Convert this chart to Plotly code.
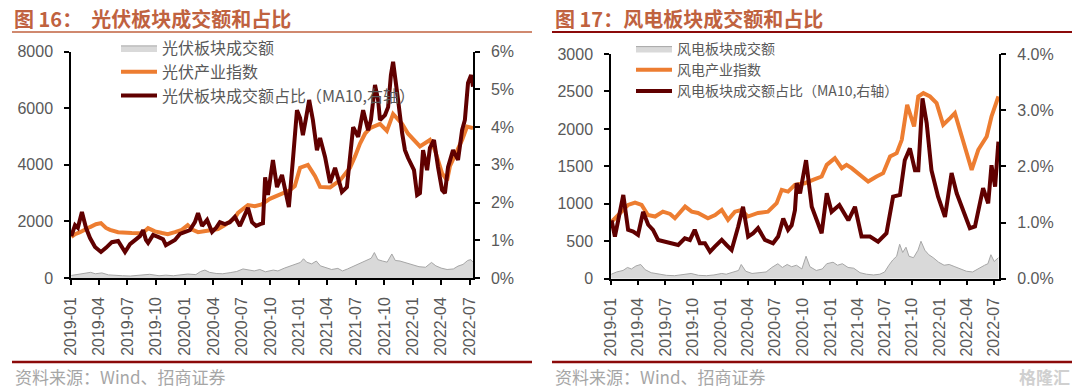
import plotly.graph_objects as go

W, H = 1077, 392

# ---------------- data : 光伏 (PV) ----------------
pv_amt_dates = ["2019-01-02","2019-01-20","2019-02-15","2019-03-05","2019-03-20","2019-04-10","2019-05-01","2019-05-20",
                "2019-06-15","2019-07-10","2019-08-01","2019-08-25","2019-09-10","2019-10-10","2019-11-01","2019-11-25",
                "2019-12-15","2020-01-10","2020-02-05","2020-02-20","2020-03-05","2020-03-20","2020-04-10","2020-05-01",
                "2020-05-25","2020-06-15","2020-07-05","2020-07-20","2020-08-10","2020-08-28","2020-09-15","2020-10-10",
                "2020-10-25","2020-11-15","2020-12-05","2020-12-20","2021-01-05","2021-01-15","2021-01-25","2021-02-10",
                "2021-02-25","2021-03-10","2021-03-25","2021-04-15","2021-05-05","2021-05-20","2021-06-05","2021-06-20",
                "2021-07-05","2021-07-20","2021-08-05","2021-08-20","2021-08-30","2021-09-10","2021-09-25","2021-10-10",
                "2021-10-25","2021-11-05","2021-11-20","2021-12-05","2021-12-20","2022-01-05","2022-01-20","2022-02-10",
                "2022-03-01","2022-03-15","2022-04-01","2022-04-20","2022-05-10","2022-05-25","2022-06-10","2022-06-25",
                "2022-07-05","2022-07-12"]
pv_amt = [90, 120, 160, 200, 150, 180, 110, 90,
          80, 70, 90, 110, 130, 80, 100, 80,
          110, 140, 120, 230, 280, 200, 160, 150,
          190, 230, 320, 280, 250, 300, 220, 280,
          250, 350, 420, 480, 550, 680, 560, 500,
          600, 430, 380, 300, 340, 250, 320, 400,
          480, 550, 640, 700, 900, 650, 600, 560,
          850, 620, 600, 550, 520, 470, 400, 380,
          550, 430, 350, 300, 320, 420, 480, 620,
          650, 560]

pv_idx_dates = ["2019-01-02","2019-01-14","2019-01-30","2019-02-15","2019-03-03","2019-03-22","2019-04-07","2019-04-23",
                "2019-05-06","2019-06-01","2019-06-23","2019-07-15","2019-08-10","2019-08-26","2019-09-05","2019-09-27",
                "2019-10-20","2019-11-07","2019-11-30","2019-12-22","2020-01-10","2020-01-26","2020-02-12","2020-03-05",
                "2020-03-28","2020-04-16","2020-05-08","2020-05-24","2020-06-09","2020-06-19","2020-07-01","2020-07-21",
                "2020-08-12","2020-09-03","2020-09-29","2020-10-31","2020-12-02","2020-12-18","2021-01-04","2021-01-29",
                "2021-02-21","2021-03-09","2021-04-10","2021-05-12","2021-06-13","2021-06-29","2021-07-15","2021-07-31",
                "2021-08-16","2021-09-17","2021-10-09","2021-10-29","2021-11-27","2021-12-16","2022-01-14","2022-01-23",
                "2022-02-24","2022-03-12","2022-04-04","2022-04-20","2022-04-29","2022-05-22","2022-06-07","2022-06-23",
                "2022-07-12"]
pv_idx = [1450, 1550, 1620, 1730, 1800, 1900, 1940, 1770,
          1700, 1620, 1620, 1590, 1580, 1660, 1760, 1650,
          1590, 1550, 1620, 1700, 1870, 1700, 1620, 1650,
          1700, 1730, 1870, 1980, 2120, 2300, 2400, 2580,
          2540, 2600, 2800, 2950, 3100, 3250, 3900, 4000,
          3600, 3220, 3200, 3450, 3900, 4300, 4750, 5100,
          5300, 5450, 5200, 5800, 5450, 5100, 4750, 4650,
          4880, 4520, 3700, 3450, 3950, 4500, 4880, 5350,
          5300]

pv_share_dates = ["2019-01-02","2019-01-14","2019-01-23","2019-02-05","2019-02-18","2019-03-03","2019-03-19","2019-04-07",
                  "2019-04-23","2019-05-12","2019-06-01","2019-06-10","2019-06-23","2019-07-09","2019-07-25","2019-08-10",
                  "2019-08-20","2019-08-29","2019-09-05","2019-09-21","2019-10-07","2019-10-23","2019-11-01","2019-11-14",
                  "2019-11-30","2019-12-16","2020-01-02","2020-01-17","2020-02-02","2020-02-12","2020-02-25","2020-03-12",
                  "2020-03-28","2020-04-10","2020-04-22","2020-05-08","2020-05-24","2020-06-09","2020-06-25","2020-07-08",
                  "2020-07-21","2020-08-03","2020-08-16","2020-08-29","2020-09-07","2020-09-14","2020-09-23","2020-10-09",
                  "2020-10-22","2020-11-07","2020-11-20","2020-11-29","2020-12-12","2020-12-25","2021-01-04","2021-01-13",
                  "2021-01-23","2021-02-02","2021-02-14","2021-02-27","2021-03-09","2021-03-25","2021-04-10","2021-04-26",
                  "2021-05-12","2021-05-18","2021-06-03","2021-06-13","2021-06-23","2021-07-09","2021-07-25","2021-08-10",
                  "2021-08-19","2021-09-01","2021-09-11","2021-09-17","2021-10-03","2021-10-13","2021-10-22","2021-10-29",
                  "2021-11-07","2021-11-14","2021-11-27","2021-12-06","2021-12-16","2022-01-04","2022-01-14","2022-01-23",
                  "2022-02-02","2022-02-15","2022-02-24","2022-03-09","2022-03-22","2022-04-04","2022-04-13","2022-04-23",
                  "2022-05-09","2022-05-25","2022-06-07","2022-06-16","2022-06-26","2022-07-06","2022-07-12"]
pv_share = [1.11, 1.40, 1.33, 1.75, 1.33, 1.06, 0.82, 0.69,
            0.80, 0.95, 0.98, 0.85, 0.69, 0.90, 1.01, 1.11,
            1.27, 1.01, 0.93, 1.14, 1.09, 1.03, 0.87, 0.93,
            1.01, 1.17, 1.22, 1.27, 1.48, 1.72, 1.38, 1.54,
            1.22, 1.33, 1.48, 1.43, 1.48, 1.62, 1.38, 1.62,
            1.86, 1.48, 1.38, 1.43, 1.45, 2.67, 2.20, 3.13,
            2.41, 2.73, 2.20, 1.88, 3.13, 4.45, 4.24, 3.79,
            4.24, 4.72, 4.19, 3.39, 3.71, 3.21, 2.52, 2.92,
            2.47, 2.28, 2.41, 3.13, 4.00, 3.74, 4.45, 3.92,
            4.19, 5.12, 4.72, 4.19, 4.32, 4.53, 5.38, 5.73,
            5.25, 4.72, 3.84, 3.39, 3.18, 2.86, 2.20, 2.25,
            3.39, 2.86, 3.45, 3.66, 2.94, 2.33, 2.25, 2.94,
            3.39, 3.13, 3.92, 4.19, 5.17, 5.38, 5.07]

# ---------------- data : 风电 (wind) ----------------
wind_amt_dates = ["2019-01-02","2019-01-20","2019-02-10","2019-02-25","2019-03-10","2019-03-25","2019-04-10","2019-04-25",
                  "2019-05-15","2019-06-10","2019-07-05","2019-08-01","2019-09-01","2019-09-25","2019-10-20","2019-11-15",
                  "2019-12-10","2020-01-05","2020-01-20","2020-02-15","2020-03-01","2020-03-10","2020-03-25","2020-04-15",
                  "2020-05-10","2020-06-01","2020-06-20","2020-07-10","2020-07-25","2020-08-10","2020-08-25","2020-09-10",
                  "2020-09-28","2020-10-12","2020-10-25","2020-11-15","2020-12-05","2020-12-20","2021-01-10","2021-01-25",
                  "2021-02-10","2021-03-01","2021-03-20","2021-04-10","2021-05-01","2021-05-25","2021-06-15","2021-07-01",
                  "2021-07-15","2021-07-28","2021-08-10","2021-08-20","2021-08-30","2021-09-10","2021-09-20","2021-10-05",
                  "2021-10-20","2021-10-30","2021-11-12","2021-11-25","2021-12-10","2021-12-28","2022-01-15","2022-02-01",
                  "2022-02-20","2022-03-10","2022-03-30","2022-04-20","2022-05-10","2022-05-30","2022-06-10","2022-06-20",
                  "2022-07-01","2022-07-15"]
wind_amt = [60, 90, 110, 150, 130, 170, 190, 120,
            80, 60, 45, 40, 55, 70, 45, 40,
            50, 70, 60, 90, 110, 190, 100, 70,
            80, 90, 150, 200, 150, 190, 160, 180,
            130, 300, 160, 110, 130, 200, 220, 180,
            200, 150, 140, 80, 60, 50, 60, 90,
            180, 250, 300, 460, 350, 420, 300, 280,
            380, 500, 380, 320, 280, 220, 180, 190,
            160, 130, 100, 90, 140, 180, 200, 320,
            230, 280]

wind_idx_dates = ["2019-01-03","2019-01-31","2019-02-27","2019-03-22","2019-04-13","2019-05-04","2019-05-28","2019-06-23",
                  "2019-07-17","2019-08-02","2019-09-05","2019-09-27","2019-10-18","2019-11-20","2019-12-14","2020-01-05",
                  "2020-01-26","2020-02-18","2020-03-11","2020-04-01","2020-05-05","2020-06-07","2020-07-06","2020-07-23",
                  "2020-08-13","2020-09-05","2020-10-08","2020-11-04","2020-12-03","2020-12-20","2021-01-16","2021-02-08",
                  "2021-02-24","2021-03-13","2021-04-04","2021-05-07","2021-06-04","2021-06-26","2021-07-19","2021-08-10",
                  "2021-08-27","2021-09-14","2021-10-07","2021-10-21","2021-11-07","2021-11-29","2021-12-21","2022-01-12",
                  "2022-02-04","2022-02-20","2022-03-15","2022-04-17","2022-05-09","2022-06-06","2022-06-22","2022-07-09",
                  "2022-07-15"]
wind_idx = [760, 880, 985, 1015, 985, 850, 830, 895,
            865, 807, 963, 895, 878, 807, 850, 918,
            785, 895, 918, 830, 878, 895, 1008, 1186,
            1163, 1253, 1275, 1320, 1364, 1520, 1610, 1476,
            1520, 1476, 1409, 1297, 1364, 1409, 1631, 1676,
            1854, 2322, 2032, 2433, 2478, 2433, 2345, 2055,
            2144, 2211, 1899, 1453, 1721, 1899, 2166, 2389,
            2433]

wind_share_dates = ["2019-01-03","2019-01-14","2019-01-25","2019-02-11","2019-02-27","2019-03-16","2019-04-01","2019-04-18",
                    "2019-05-05","2019-05-21","2019-06-07","2019-06-29","2019-07-22","2019-08-13","2019-09-04","2019-09-21",
                    "2019-10-07","2019-10-24","2019-11-10","2019-11-27","2019-12-13","2020-01-05","2020-01-21","2020-02-07",
                    "2020-02-29","2020-03-16","2020-04-02","2020-04-19","2020-05-05","2020-05-28","2020-06-24","2020-07-11",
                    "2020-07-28","2020-08-13","2020-08-25","2020-09-05","2020-09-11","2020-09-22","2020-10-12","2020-10-31",
                    "2020-12-03","2020-12-20","2021-01-05","2021-01-31","2021-03-02","2021-03-24","2021-04-15","2021-05-13",
                    "2021-06-09","2021-07-07","2021-07-29","2021-08-21","2021-09-06","2021-09-23","2021-10-10","2021-10-21",
                    "2021-11-04","2021-11-18","2021-12-04","2021-12-26","2022-01-18","2022-02-09","2022-02-26","2022-03-20",
                    "2022-04-11","2022-04-28","2022-05-25","2022-06-11","2022-06-22","2022-07-04","2022-07-15"]
wind_share = [1.04, 0.75, 1.04, 1.49, 0.87, 0.84, 0.78, 1.19,
              0.96, 0.87, 0.69, 0.66, 0.63, 0.60, 0.72, 0.69,
              0.87, 0.63, 0.63, 0.48, 0.57, 0.69, 0.60, 0.51,
              0.93, 1.28, 0.75, 0.81, 0.90, 0.69, 0.63, 0.75,
              1.07, 0.87, 0.95, 1.22, 1.70, 1.52, 2.11, 1.28,
              0.81, 1.52, 1.19, 1.31, 1.04, 1.28, 0.75, 0.75,
              0.66, 0.81, 1.46, 1.49, 2.11, 2.32, 1.93, 1.93,
              3.21, 2.77, 1.93, 1.46, 1.10, 1.88, 1.52, 1.22,
              0.90, 0.93, 1.61, 1.34, 2.02, 1.64, 2.44]

x_tick_vals = ["2019-01-01","2019-04-01","2019-07-01","2019-10-01","2020-01-01","2020-04-01","2020-07-01","2020-10-01",
               "2021-01-01","2021-04-01","2021-07-01","2021-10-01","2022-01-01","2022-04-01","2022-07-01"]
x_tick_text = ["2019-01","2019-04","2019-07","2019-10","2020-01","2020-04","2020-07","2020-10",
               "2021-01","2021-04","2021-07","2021-10","2022-01","2022-04","2022-07"]

titles = ["图 16：  光伏板块成交额和占比", "图 17：风电板块成交额和占比"]
source_text = "资料来源：Wind、招商证券"

# ---------------- styling ----------------
GRAY_FILL = "#D9D9D9"
GRAY_LINE = "#A6A6A6"
ORANGE = "#ED7D31"
MAROON = "#600000"
TITLE_C = "#C0623F"
RULE_RED = "#8B0A0A"
TXT = "#595959"
TICKFONT = dict(family="Liberation Sans, Arial", size=16, color=TXT)
CJK = "Noto Sans CJK SC"


def px(x):
    return x / W


def py(y):
    return 1 - y / H


fig = go.Figure()

# PV panel
fig.add_trace(go.Scatter(x=pv_amt_dates, y=pv_amt, name="光伏板块成交额", mode="lines",
                         fill="tozeroy", fillcolor=GRAY_FILL, line=dict(color=GRAY_LINE, width=1),
                         xaxis="x", yaxis="y", legend="legend"))
fig.add_trace(go.Scatter(x=pv_idx_dates, y=pv_idx, name="光伏产业指数", mode="lines",
                         line=dict(color=ORANGE, width=4), xaxis="x", yaxis="y", legend="legend"))
fig.add_trace(go.Scatter(x=pv_share_dates, y=pv_share, name="光伏板块成交额占比（MA10,右轴）", mode="lines",
                         line=dict(color=MAROON, width=4), xaxis="x", yaxis="y2", legend="legend"))

# Wind panel
fig.add_trace(go.Scatter(x=wind_amt_dates, y=wind_amt, name="风电板块成交额", mode="lines",
                         fill="tozeroy", fillcolor=GRAY_FILL, line=dict(color=GRAY_LINE, width=1),
                         xaxis="x2", yaxis="y3", legend="legend2"))
fig.add_trace(go.Scatter(x=wind_idx_dates, y=wind_idx, name="风电产业指数", mode="lines",
                         line=dict(color=ORANGE, width=4), xaxis="x2", yaxis="y3", legend="legend2"))
fig.add_trace(go.Scatter(x=wind_share_dates, y=wind_share, name="风电板块成交额占比（MA10,右轴）", mode="lines",
                         line=dict(color=MAROON, width=4), xaxis="x2", yaxis="y4", legend="legend2"))

axis_common = dict(showline=True, linecolor="#000000", linewidth=1.5, ticks="outside", ticklen=5,
                   tickcolor="#000000", tickwidth=1.5, showgrid=False, zeroline=False, tickfont=TICKFONT,
                   automargin=False)

xcommon = dict(axis_common, type="date", tickvals=x_tick_vals, ticktext=x_tick_text, tickangle=-90,
               ticklabelstandoff=6)

fig.update_layout(
    width=W, height=H, autosize=False,
    margin=dict(l=0, r=0, t=0, b=0, pad=0, autoexpand=False),
    paper_bgcolor="white", plot_bgcolor="white",
    font=dict(family=CJK, color=TXT),
    xaxis=dict(xcommon, domain=[px(71), px(473)], anchor="y", range=["2019-01-01", "2022-07-12"]),
    yaxis=dict(axis_common, domain=[py(278), py(51.7)], anchor="x", range=[0, 8000], dtick=2000,
               ticklabelstandoff=8),
    yaxis2=dict(axis_common, overlaying="y", side="right", anchor="x", range=[0, 6], dtick=1,
                ticksuffix="%", ticklabelstandoff=8),
    xaxis2=dict(xcommon, domain=[px(611), px(999.3)], anchor="y3", range=["2019-01-01", "2022-07-18"]),
    yaxis3=dict(axis_common, domain=[py(278.7), py(54)], anchor="x2", range=[0, 3000], dtick=500,
                ticklabelstandoff=8),
    yaxis4=dict(axis_common, overlaying="y3", side="right", anchor="x2", range=[0, 4], dtick=1,
                tickformat=".1f", ticksuffix="%", ticklabelstandoff=8),
    legend=dict(x=px(116), y=py(31), xanchor="left", yanchor="top", bgcolor="rgba(0,0,0,0)",
                font=dict(family=CJK, size=16, color=TXT), tracegroupgap=0, itemwidth=36),
    legend2=dict(x=px(631), y=py(33), xanchor="left", yanchor="top", bgcolor="rgba(0,0,0,0)",
                 font=dict(family=CJK, size=14, color=TXT), tracegroupgap=0, itemwidth=36),
    showlegend=True,
)

# titles, rules, source
ann = []
for x0, t in zip([12, 553], titles):
    ann.append(dict(x=px(x0), y=py(18), xref="paper", yref="paper", xanchor="left", yanchor="middle",
                    text="<b>" + t + "</b>", showarrow=False,
                    font=dict(family=CJK, size=20, color=TITLE_C)))
for x0 in [13, 553]:
    ann.append(dict(x=px(x0), y=py(376), xref="paper", yref="paper", xanchor="left", yanchor="middle",
                    text=source_text, showarrow=False,
                    font=dict(family=CJK, size=17, color="#A6A6A6")))
ann.append(dict(x=px(1072), y=py(376), xref="paper", yref="paper", xanchor="right", yanchor="middle",
                text="<b>格隆汇</b>", showarrow=False, font=dict(family=CJK, size=17, color="#D0D0D0")))
fig.update_layout(annotations=ann)

shapes = [
    dict(type="line", xref="paper", yref="paper", x0=px(12), x1=px(532), y0=py(32), y1=py(32),
         line=dict(color=TITLE_C, width=1.5)),
    dict(type="line", xref="paper", yref="paper", x0=px(552), x1=px(1072), y0=py(32), y1=py(32),
         line=dict(color=RULE_RED, width=2)),
    dict(type="line", xref="paper", yref="paper", x0=px(12), x1=px(532), y0=py(362), y1=py(362),
         line=dict(color=RULE_RED, width=2.5)),
    dict(type="line", xref="paper", yref="paper", x0=px(552), x1=px(1072), y0=py(362), y1=py(362),
         line=dict(color=RULE_RED, width=2.5)),
]
fig.update_layout(shapes=shapes)

fig.write_html("out.html", config={"displayModeBar": False},
               post_script="document.body.style.margin='0';document.body.style.overflow='hidden';")
